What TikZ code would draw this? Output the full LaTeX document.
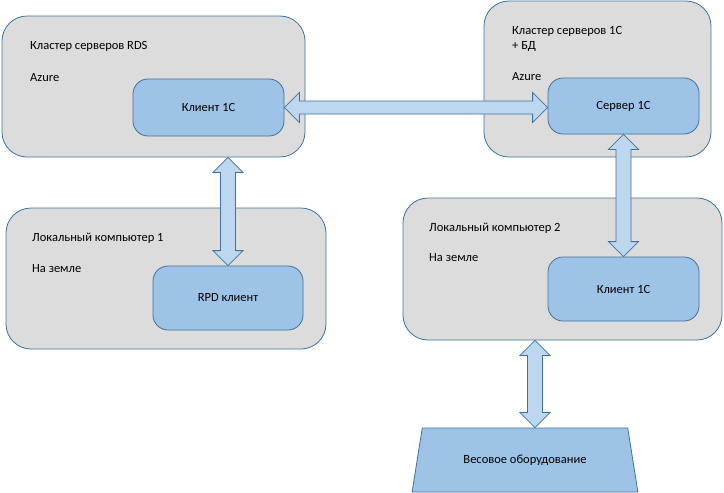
\documentclass[tikz,border=0pt]{standalone}
\usepackage{fontspec}
\setmainfont{Carlito}
\usetikzlibrary{calc,shapes.geometric}
\definecolor{boxgray}{HTML}{DCDCDC}
\definecolor{edgeblue}{HTML}{41719C}
\definecolor{innerblue}{HTML}{9DC3E6}
\definecolor{arrowblue}{HTML}{BDD7EE}
\tikzset{
  outerbox/.style={draw=edgeblue, fill=boxgray, line width=0.8pt, rounded corners=25pt, inner sep=0pt},
  innerbox/.style={draw=edgeblue, fill=innerblue, line width=0.8pt, rounded corners=15pt, inner sep=0pt, font=\fontsize{12.5}{14}\selectfont},
  lbl/.style={anchor=west, inner sep=0pt, font=\fontsize{12.5}{14}\selectfont, align=left},
  arr/.style={draw=edgeblue, fill=arrowblue, line width=0.8pt, line join=miter}
}
\newcommand\harrow[2]{%
  \draw[arr] let \p1=(#1.east), \p2=(#2.west) in
    (\x1,\y1) -- (\x1+15pt,\y1+15pt) -- (\x1+15pt,\y1+6.5pt) -- (\x2-15pt,\y1+6.5pt) -- (\x2-15pt,\y1+15pt) -- (\x2,\y1)
    -- (\x2-15pt,\y1-15pt) -- (\x2-15pt,\y1-6.5pt) -- (\x1+15pt,\y1-6.5pt) -- (\x1+15pt,\y1-15pt) -- cycle;}
% vertical arrow: #1 top node (south), #2 bottom node (north), #3 coordinate giving x
\newcommand\varrow[3]{%
  \draw[arr] let \p1=(#1.south), \p2=(#2.north), \p3=(#3) in
    (\x3,\y1) -- (\x3+15pt,\y1-15pt) -- (\x3+7.5pt,\y1-15pt) -- (\x3+7.5pt,\y2+15pt) -- (\x3+15pt,\y2+15pt) -- (\x3,\y2)
    -- (\x3-15pt,\y2+15pt) -- (\x3-7.5pt,\y2+15pt) -- (\x3-7.5pt,\y1-15pt) -- (\x3-15pt,\y1-15pt) -- cycle;}
\begin{document}
\begin{tikzpicture}[x=1pt,y=-1pt]
\useasboundingbox (0,0) rectangle (724,493);
% outer boxes
\node[outerbox, minimum width=303pt, minimum height=141pt] (box1) at (153.5,86.5) {};
\node[outerbox, minimum width=227pt, minimum height=156pt] (box2) at (597.5,79) {};
\node[outerbox, minimum width=320pt, minimum height=141pt] (box3) at (166,278.5) {};
\node[outerbox, minimum width=319pt, minimum height=142pt] (box4) at (562.5,269) {};
% labels
\node[lbl] (t1) at (30,46) {Кластер серверов RDS};
\node[lbl] (t1b) at (30,78) {Azure};
\node[lbl] (t2) at (512,31) {Кластер серверов 1С};
\node[lbl] (t2a) at (512,46) {+ БД};
\node[lbl] (t2b) at (512,77) {Azure};
\node[lbl] (t3) at (32,238) {Локальный компьютер 1};
\node[lbl] (t3b) at (32,269) {На земле};
\node[lbl] (t4) at (429,228) {Локальный компьютер 2};
\node[lbl] (t4b) at (429,258) {На земле};
% inner boxes
\node[innerbox, minimum width=151pt, minimum height=57pt] (k1) at (208.5,107.5) {Клиент 1С};
\node[innerbox, minimum width=151pt, minimum height=56pt] (srv) at (623.5,106) {Сервер 1С};
\node[innerbox, minimum width=150pt, minimum height=64pt] (rpd) at (228,298) {RPD клиент};
\node[innerbox, minimum width=151pt, minimum height=64pt] (k2) at (623.5,289) {Клиент 1С};
% trapezium
\node[trapezium, trapezium stretches=true, draw=edgeblue, fill=innerblue, line width=0.8pt,
      minimum width=226pt, minimum height=64pt, inner sep=0pt, font=\fontsize{12.5}{14}\selectfont] (scale) at (525,460) {Весовое оборудование};
% arrow x positions
\coordinate (ax1) at (228,0);
\coordinate (ax2) at (623.5,0);
\coordinate (ax3) at (535,0);
% arrows
\harrow{k1}{srv}
\varrow{box1}{rpd}{ax1}
\varrow{srv}{k2}{ax2}
\varrow{box4}{scale}{ax3}
\end{tikzpicture}
\end{document}
